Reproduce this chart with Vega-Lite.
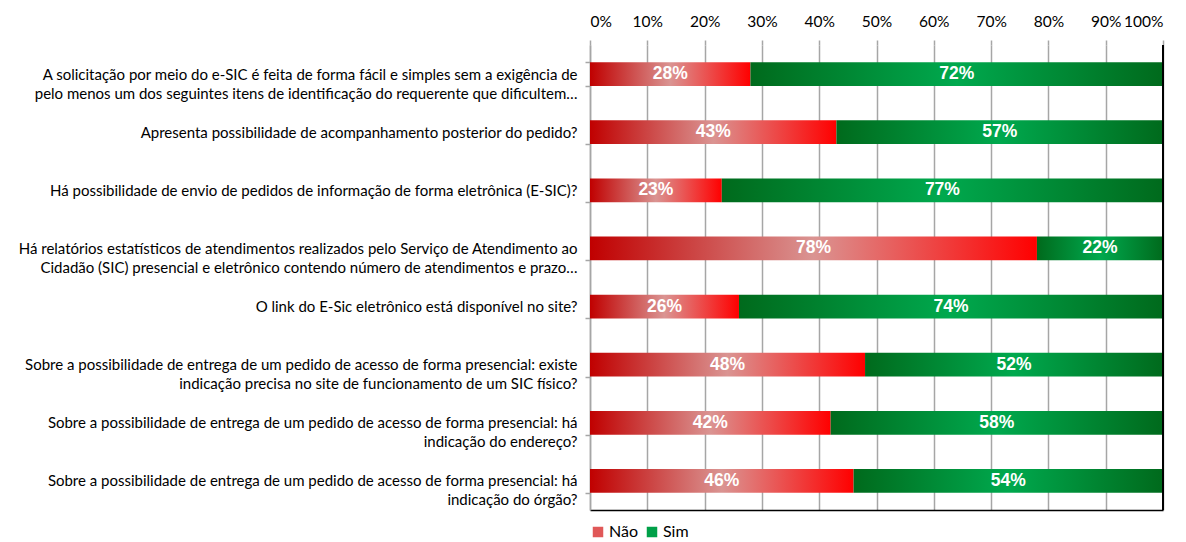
{
  "$schema": "https://vega.github.io/schema/vega-lite/v6.json",
  "width": 573,
  "height": 465,
  "autosize": {"type": "none"},
  "padding": {"left": 590, "top": 45, "right": 23, "bottom": 32},
  "background": "white",
  "config": {"view": {"stroke": null}},
  "data": {
    "values": [
      {"q": "A solicitação por meio do e-SIC é feita de forma fácil e simples sem a exigência de|pelo menos um dos seguintes itens de identificação do requerente que dificultem…", "resp": "Não", "v": 0.28},
      {"q": "A solicitação por meio do e-SIC é feita de forma fácil e simples sem a exigência de|pelo menos um dos seguintes itens de identificação do requerente que dificultem…", "resp": "Sim", "v": 0.72},
      {"q": "Apresenta possibilidade de acompanhamento posterior do pedido?", "resp": "Não", "v": 0.43},
      {"q": "Apresenta possibilidade de acompanhamento posterior do pedido?", "resp": "Sim", "v": 0.57},
      {"q": "Há possibilidade de envio de pedidos de informação de forma eletrônica (E-SIC)?", "resp": "Não", "v": 0.23},
      {"q": "Há possibilidade de envio de pedidos de informação de forma eletrônica (E-SIC)?", "resp": "Sim", "v": 0.77},
      {"q": "Há relatórios estatísticos de atendimentos realizados pelo Serviço de Atendimento ao|Cidadão (SIC) presencial e eletrônico contendo número de atendimentos e prazo…", "resp": "Não", "v": 0.78},
      {"q": "Há relatórios estatísticos de atendimentos realizados pelo Serviço de Atendimento ao|Cidadão (SIC) presencial e eletrônico contendo número de atendimentos e prazo…", "resp": "Sim", "v": 0.22},
      {"q": "O link do E-Sic eletrônico está disponível no site?", "resp": "Não", "v": 0.26},
      {"q": "O link do E-Sic eletrônico está disponível no site?", "resp": "Sim", "v": 0.74},
      {"q": "Sobre a possibilidade de entrega de um pedido de acesso de forma presencial: existe|indicação precisa no site de funcionamento de um SIC físico?", "resp": "Não", "v": 0.48},
      {"q": "Sobre a possibilidade de entrega de um pedido de acesso de forma presencial: existe|indicação precisa no site de funcionamento de um SIC físico?", "resp": "Sim", "v": 0.52},
      {"q": "Sobre a possibilidade de entrega de um pedido de acesso de forma presencial: há|indicação do endereço?", "resp": "Não", "v": 0.42},
      {"q": "Sobre a possibilidade de entrega de um pedido de acesso de forma presencial: há|indicação do endereço?", "resp": "Sim", "v": 0.58},
      {"q": "Sobre a possibilidade de entrega de um pedido de acesso de forma presencial: há|indicação do órgão?", "resp": "Não", "v": 0.46},
      {"q": "Sobre a possibilidade de entrega de um pedido de acesso de forma presencial: há|indicação do órgão?", "resp": "Sim", "v": 0.54}
    ]
  },
  "transform": [
    {"stack": "v", "groupby": ["q"], "sort": [{"field": "resp", "order": "ascending"}], "as": ["v0", "v1"]}
  ],
  "layer": [
    {
      "transform": [{"filter": "datum.resp === 'Não'"}],
      "mark": {
        "type": "bar",
        "fill": {"gradient": "linear", "x1": 0, "y1": 0, "x2": 1, "y2": 0, "stops": [
          {"offset": 0, "color": "#C00000"},
          {"offset": 0.5, "color": "#DA9492"},
          {"offset": 1, "color": "#FF0000"}
        ]}
      },
      "encoding": {
        "y": {
          "field": "q",
          "type": "nominal",
          "sort": null,
          "scale": {"paddingInner": 0.59, "paddingOuter": 0.295},
          "axis": {
            "title": null,
            "labelExpr": "split(datum.label, '|')",
            "labelFont": "Lato",
            "labelFontSize": 15,
            "labelColor": "#000000",
            "labelLimit": 0,
            "labelLineHeight": 19,
            "labelPadding": 8,
            "tickBand": "extent",
            "ticks": true,
            "tickSize": 5,
            "tickColor": "#A6A6A6",
            "tickWidth": 1.5,
            "domainColor": "#A6A6A6",
            "domainWidth": 1.5,
            "grid": false
          }
        },
        "x": {
          "field": "v0",
          "type": "quantitative",
          "scale": {"domain": [0, 1], "nice": false},
          "axis": {
            "orient": "top",
            "title": null,
            "format": ".0%",
            "values": [0, 0.1, 0.2, 0.3, 0.4, 0.5, 0.6, 0.7, 0.8, 0.9, 1],
            "labelFont": "Lato",
            "labelFontSize": 15.5,
            "labelColor": "#000000",
            "labelPadding": 11,
            "tickSize": 5,
            "tickColor": "#A6A6A6",
            "tickWidth": 1.5,
            "domain": false,
            "grid": true,
            "gridColor": "#A6A6A6",
            "gridWidth": 1.5
          }
        },
        "x2": {"field": "v1"}
      }
    },
    {
      "transform": [{"filter": "datum.resp === 'Sim'"}],
      "mark": {
        "type": "bar",
        "fill": {"gradient": "linear", "x1": 0, "y1": 0, "x2": 1, "y2": 0, "stops": [
          {"offset": 0, "color": "#006A1C"},
          {"offset": 0.5, "color": "#00A94E"},
          {"offset": 1, "color": "#006A1C"}
        ]}
      },
      "encoding": {
        "y": {"field": "q", "type": "nominal", "sort": null},
        "x": {"field": "v0", "type": "quantitative", "axis": null},
        "x2": {"field": "v1"}
      }
    },
    {
      "transform": [{"calculate": "(datum.v0 + datum.v1) / 2", "as": "mid"}],
      "mark": {"type": "text", "font": "Liberation Sans", "fontWeight": "bold", "fontSize": 17.5, "color": "white", "baseline": "middle"},
      "encoding": {
        "y": {"field": "q", "type": "nominal", "sort": null},
        "x": {"field": "mid", "type": "quantitative", "axis": null},
        "text": {"field": "v", "type": "quantitative", "format": ".0%"}
      }
    },
    {
      "mark": {"type": "square", "opacity": 0},
      "encoding": {
        "y": {"field": "q", "type": "nominal", "sort": null},
        "x": {"field": "v1", "type": "quantitative", "axis": null},
        "color": {
          "field": "resp",
          "type": "nominal",
          "scale": {"domain": ["Não", "Sim"], "range": ["#E05858", "#00A048"]},
          "legend": {
            "title": null,
            "orient": "none",
            "legendX": 0,
            "legendY": 479,
            "direction": "horizontal",
            "symbolType": "square",
            "symbolSize": 110,
            "symbolOpacity": 1,
            "symbolStrokeWidth": 0,
            "labelFont": "Lato",
            "labelFontSize": 16,
            "labelColor": "#000000",
            "columnPadding": 6,
            "labelOffset": 3
          }
        }
      }
    },
    {
      "mark": {"type": "rule", "color": "#000000", "strokeWidth": 1.5},
      "encoding": {
        "x": {
          "datum": 1,
          "type": "quantitative",
          "axis": {"orient": "bottom", "title": null, "labels": false, "ticks": false, "grid": false, "domainColor": "#000000", "domainWidth": 1.5}
        }
      }
    }
  ]
}
